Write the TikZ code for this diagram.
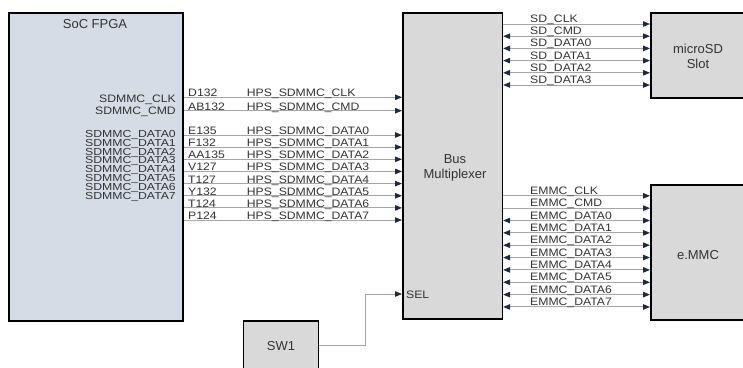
\documentclass[tikz,border=0pt]{standalone}
\usepackage{fontspec}
\setmainfont{Liberation Sans}
\newfontfamily\widesans{Liberation Sans}[FakeStretch=1.13]
\newfontfamily\widersans{Liberation Sans}[FakeStretch=1.2]
\usetikzlibrary{arrows.meta}
\definecolor{socfill}{HTML}{D6DCE5}
\definecolor{boxfill}{HTML}{D9D9D9}
\definecolor{wirec}{HTML}{A6A6A6}
\definecolor{tipc}{HTML}{1F2A3C}
\definecolor{txt}{HTML}{333333}
\begin{document}
\begin{tikzpicture}[x=1pt,y=-1pt,
  box/.style={draw=black, line width=1.6pt, fill=boxfill, inner sep=0pt, text=txt,
    font=\fontsize{13}{14}\selectfont, align=center},
  lbl/.style={text=txt, font=\widesans\fontsize{10.8}{12}\selectfont, inner sep=0pt},
  stack/.style={text=txt, font=\widersans\fontsize{10.2}{11}\selectfont, inner sep=0pt},
  title/.style={text=txt, font=\fontsize{13}{15}\selectfont, inner sep=0pt, align=center},
  wire/.style={draw=wirec, line width=1pt},
  tipr/.style={-{Triangle[length=7pt,width=5.5pt,color=tipc]}},
  tipb/.style={{Triangle[length=7pt,width=5.5pt,color=tipc]}-{Triangle[length=7pt,width=5.5pt,color=tipc]}}]
\clip (0,0) rectangle (743,367);
\useasboundingbox (0,0) rectangle (743,367);
% boxes
\node[box, fill=socfill, minimum width=174pt, minimum height=308pt, anchor=north west] (soc) at (8,12) {};
\node[box, minimum width=99.5pt, minimum height=306pt, anchor=north west] (mux) at (402,12) {};
\node[box, minimum width=96pt, minimum height=85pt, anchor=north west] (sd) at (650,12) {};
\node[box, minimum width=96pt, minimum height=135pt, anchor=north west] (emmc) at (650,184) {};
\node[box, minimum width=75pt, minimum height=50pt, anchor=north west] (sw) at (242.7,320) {SW1};
% titles
\node[title, anchor=base] (soct) at (95,28.5) {SoC FPGA};
\node[title] (muxt) at (455,167.5) {Bus\\Multiplexer};
\node[title] (sdt) at (698,56.5) {microSD\\Slot};
\node[title] (emmct) at (698,255) {e.MMC};
% SoC side labels
\node[lbl, anchor=base east] (sclk) at (176,102.3) {SDMMC\_CLK};
\node[lbl, anchor=base east] (scmd) at (176,114.3) {SDMMC\_CMD};
\foreach \i in {0,...,7}{
  \node[stack, anchor=base east] (sd\i) at (176,137.3+8.86*\i) {SDMMC\_DATA\i};
}
% SoC -> mux wires
\foreach \y/\pin/\nm [count=\k] in {97.3/D132/CLK, 110.7/AB132/CMD, 135/E135/DATA0,
    147.15/F132/DATA1, 159.3/AA135/DATA2, 171.45/V127/DATA3, 183.6/T127/DATA4,
    195.75/Y132/DATA5, 207.9/T124/DATA6, 220.05/P124/DATA7}{
  \draw[wire,tipr] (soc.east |- 0,\y) -- (mux.west |- 0,\y);
  \node[lbl, anchor=base west] (pin\k) at (188,\y-0.5) {\pin};
  \node[lbl, anchor=base west] (hps\k) at (246.7,\y-0.5) {HPS\_SDMMC\_\nm};
}
% mux -> microSD
\foreach \nm/\st [count=\k from 0] in {CLK/tipr, CMD/tipb, DATA0/tipb, DATA1/tipb, DATA2/tipb, DATA3/tipb}{
  \draw[wire,\st] (mux.east |- 0,24+12.2*\k) -- (sd.west |- 0,24+12.2*\k);
  \node[lbl, anchor=base west] (sdl\k) at (530,22.5+12.2*\k) {SD\_\nm};
}
% mux -> eMMC
\foreach \nm/\st [count=\k from 0] in {CLK/tipr, CMD/tipr, DATA0/tipb, DATA1/tipb, DATA2/tipb,
    DATA3/tipb, DATA4/tipb, DATA5/tipb, DATA6/tipb, DATA7/tipb}{
  \draw[wire,\st] (mux.east |- 0,195.8+12.35*\k) -- (emmc.west |- 0,195.8+12.35*\k);
  \node[lbl, anchor=base west] (eml\k) at (530,194.3+12.35*\k) {EMMC\_\nm};
}
% SEL
\coordinate (bend) at (365,294);
\draw[wire,tipr] (sw.east) -| (bend) -- (mux.west |- bend);
\node[lbl, anchor=base west] (sel) at (406,298.3) {SEL};
\end{tikzpicture}
\end{document}
